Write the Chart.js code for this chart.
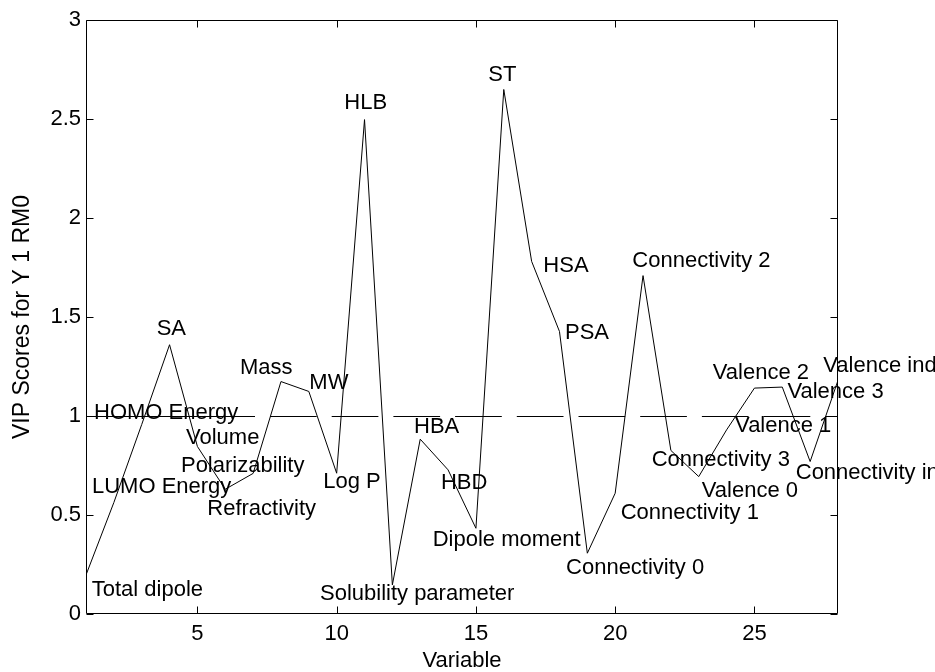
<!DOCTYPE html>
<html>
<head>
<meta charset="utf-8">
<title>VIP Scores</title>
<script src="https://cdn.jsdelivr.net/npm/chart.js@4.4.1/dist/chart.umd.min.js"></script>
<style>
  html, body { margin: 0; padding: 0; background: #fff; }
  #wrap { width: 935px; height: 672px; }
</style>
</head>
<body>
<div id="wrap"><canvas id="vipChart" width="935" height="672"></canvas></div>
<script>
// variable names, in the order they appear on the x axis (1..28)
const variables = [
  'Total dipole', 'LUMO Energy', 'HOMO Energy', 'SA', 'Volume',
  'Polarizability', 'Refractivity', 'Mass', 'MW', 'Log P',
  'HLB', 'Solubility parameter', 'HBA', 'HBD', 'Dipole moment',
  'ST', 'HSA', 'PSA', 'Connectivity 0', 'Connectivity 1',
  'Connectivity 2', 'Connectivity 3', 'Valence 0', 'Valence 1', 'Valence 2',
  'Valence 3', 'Connectivity index', 'Valence index'
];

// VIP score of each variable
const vipScores = [
  0.197, 0.563, 0.957, 1.36, 0.846,
  0.63, 0.71, 1.174, 1.124, 0.711,
  2.497, 0.147, 0.883, 0.728, 0.433,
  2.649, 1.781, 1.427, 0.307, 0.61,
  1.709, 0.826, 0.694, 0.93, 1.141,
  1.146, 0.77, 1.18
];

const xTicks = [5, 10, 15, 20, 25];
const yTicks = [0, 0.5, 1, 1.5, 2, 2.5, 3];
const cutoff = 1;   // VIP = 1 reference line

// where each name sits relative to its point, in pixels [dx, dy]
const labelOffsets = [
  [5.7, 15], [-21.9, -15.8], [-47.7, -11.8], [-12.9, -15.5], [-11.4, -9],
  [-44.3, -23.3], [-45.8, 35.6], [-41, -14], [0.5, -8.9], [-13.4, 8.3],
  [-20.2, -17.1], [-72.4, 9.3], [-6.2, -12.2], [-7.1, 12.9], [-43.2, 11.2],
  [-15.5, -14.8], [11.7, 4.8], [5.5, 1], [-21.3, 14.6], [5.5, 19.3],
  [-10.7, -14.8], [-19.2, 9.7], [3, 14.2], [8.5, -4.1], [-41.7, -15.6],
  [5.1, 4.6], [-14.4, 11], [-14.7, -14.6]
];

const FONT = '"Liberation Sans", Arial, Helvetica, sans-serif';

// long first dash, then regular dashes
const cutoffDash = [169, 15];
for (let k = 0; k < 12; k++) cutoffDash.push(46.7, 15);

// dashed VIP = 1 line across the whole axes, snapped to a pixel row
const cutoffLine = {
  id: 'cutoffLine',
  afterDatasetsDraw(chart) {
    const { ctx, chartArea: a, scales: { y } } = chart;
    const py = Math.round(y.getPixelForValue(cutoff)) + 0.5;
    ctx.save();
    ctx.beginPath();
    ctx.rect(a.left, a.top, a.right - a.left, a.bottom - a.top);
    ctx.clip();
    ctx.strokeStyle = '#000';
    ctx.lineWidth = 1;
    ctx.setLineDash(cutoffDash);
    ctx.beginPath();
    ctx.moveTo(a.left, py);
    ctx.lineTo(a.right, py);
    ctx.stroke();
    ctx.restore();
  }
};

// box around the axes with inward tick marks on all four sides
const axesBox = {
  id: 'axesBox',
  afterDatasetsDraw(chart) {
    const { ctx, chartArea: a, scales: { x, y } } = chart;
    const len = 7;
    const L = a.left + 0.5, R = a.right - 0.5, T = a.top + 0.5, B = a.bottom - 0.5;
    ctx.save();
    ctx.strokeStyle = '#000';
    ctx.lineWidth = 1;
    ctx.beginPath();
    ctx.rect(L, T, R - L, B - T);
    xTicks.forEach(v => {
      const px = Math.round(x.getPixelForValue(v)) + 0.5;
      ctx.moveTo(px, B); ctx.lineTo(px, B - len);
      ctx.moveTo(px, T); ctx.lineTo(px, T + len);
    });
    yTicks.forEach(v => {
      const py = Math.round(y.getPixelForValue(v)) + 0.5;
      ctx.moveTo(L, py); ctx.lineTo(L + len, py);
      ctx.moveTo(R, py); ctx.lineTo(R - len, py);
    });
    ctx.stroke();
    ctx.restore();
  }
};

// variable names written next to their points
const pointLabels = {
  id: 'pointLabels',
  afterDraw(chart) {
    const { ctx, scales: { x, y } } = chart;
    ctx.save();
    ctx.font = '22px ' + FONT;
    ctx.fillStyle = '#000';
    ctx.textAlign = 'left';
    ctx.textBaseline = 'middle';
    variables.forEach((name, i) => {
      const px = x.getPixelForValue(i + 1);
      const py = y.getPixelForValue(vipScores[i]);
      ctx.fillText(name, px + labelOffsets[i][0], py + labelOffsets[i][1]);
    });
    ctx.restore();
  }
};

const ctx = document.getElementById('vipChart').getContext('2d');
new Chart(ctx, {
  type: 'line',
  data: {
    datasets: [
      {
        label: 'VIP',
        data: vipScores.map((v, i) => ({ x: i + 1, y: v })),
        borderColor: '#000',
        borderWidth: 1,
        pointRadius: 0,
        tension: 0,
        fill: false
      }
    ]
  },
  options: {
    responsive: false,
    animation: false,
    events: [],
    layout: { padding: { left: 0, right: 97, top: 20, bottom: 0 } },
    plugins: {
      legend: { display: false },
      tooltip: { enabled: false },
      title: { display: false }
    },
    scales: {
      x: {
        type: 'linear',
        min: 1,
        max: variables.length,
        grid: { display: false, drawTicks: false },
        border: { display: false },
        afterBuildTicks: s => { s.ticks = xTicks.map(v => ({ value: v })); },
        afterFit: s => { s.height = 58; },
        ticks: {
          color: '#000',
          font: { family: FONT, size: 22 },
          padding: 7,
          maxRotation: 0,
          autoSkip: false,
          callback: v => String(v)
        },
        title: {
          display: true,
          text: 'Variable',
          color: '#000',
          font: { family: FONT, size: 22, lineHeight: 1 },
          padding: { top: 0, bottom: 0 }
        }
      },
      y: {
        min: 0,
        max: 3,
        grid: { display: false, drawTicks: false },
        border: { display: false },
        afterBuildTicks: s => { s.ticks = yTicks.map(v => ({ value: v })); },
        afterFit: s => { s.width = 86; },
        ticks: {
          color: '#000',
          font: { family: FONT, size: 22 },
          padding: 5,
          autoSkip: false,
          callback: v => String(v)
        },
        title: {
          display: true,
          text: 'VIP Scores for Y 1 RM0',
          color: '#000',
          font: { family: FONT, size: 23, lineHeight: 1 },
          padding: { top: 11, bottom: 0 }
        }
      }
    }
  },
  plugins: [cutoffLine, axesBox, pointLabels]
});
</script>
</body>
</html>
